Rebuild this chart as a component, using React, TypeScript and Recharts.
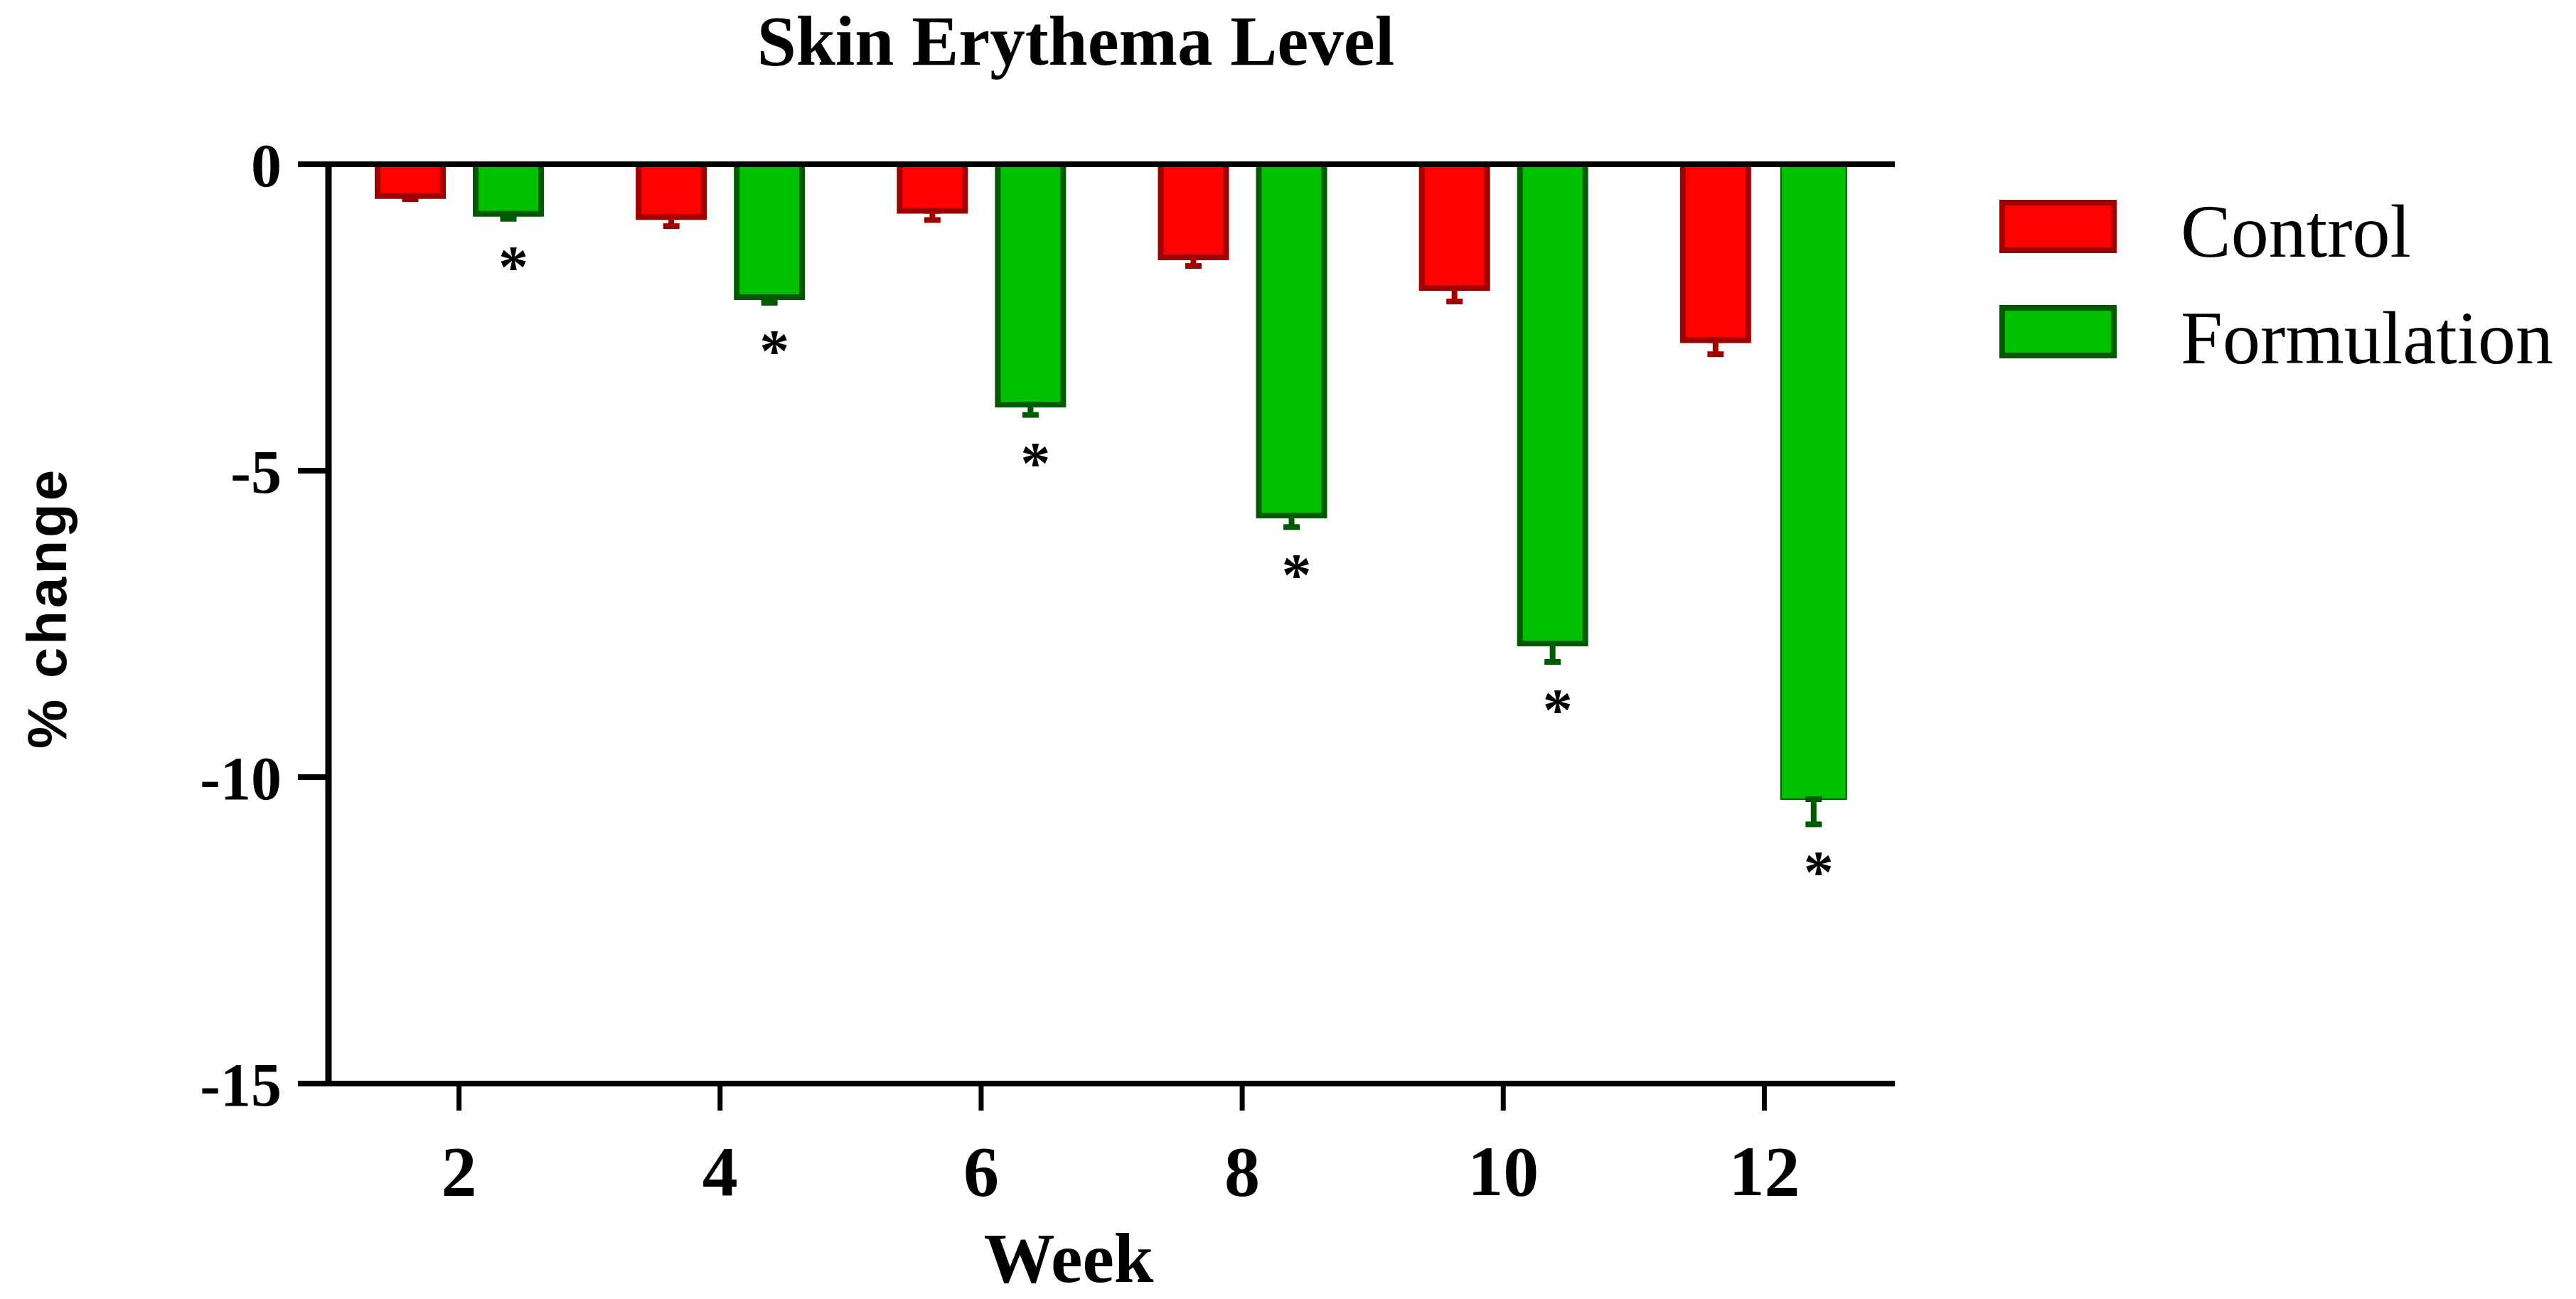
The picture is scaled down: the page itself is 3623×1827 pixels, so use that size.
import React from 'react';
import { BarChart, Bar, XAxis, YAxis, ErrorBar, ReferenceLine, Legend, LabelList, Cell, Customized } from 'recharts';

const weeks = ['2', '4', '6', '8', '10', '12'];
const controlMean = [-0.52, -0.86, -0.76, -1.52, -2.02, -2.87];
const controlSem = [0.05, 0.15, 0.15, 0.14, 0.22, 0.23];
const formulationMean = [-0.81, -2.17, -3.92, -5.73, -7.82, -10.36];
const formulationSem = [0.08, 0.09, 0.17, 0.19, 0.3, 0.41];
const significance = ['*', '*', '*', '*', '*', '*'];
const yTicks = [0, -5, -10, -15];

const RED = '#ff0000';
const RED_EDGE = '#a00000';
const GREEN = '#00c000';
const GREEN_EDGE = '#005a00';

const SERIF = '"Liberation Serif", "Times New Roman", serif';
const SANS = '"Liberation Sans", Arial, sans-serif';

const edgeColors: Record<string, string> = { control: RED_EDGE, formulation: GREEN_EDGE };

// error bars only go downwards: [lower, upper]
const data = weeks.map((week, i) => ({
  week,
  control: controlMean[i],
  controlErr: [controlSem[i], 0],
  formulation: formulationMean[i],
  formulationErr: [formulationSem[i], 0],
}));

const renderStar = (props: any) => {
  const vb = props.viewBox && props.viewBox.width != null ? props.viewBox : props;
  const { x, y, width, height } = vb;
  const index = props.index;
  const v = formulationMean[index];
  const bottom = Math.max(y, y + height);
  const pxPerUnit = Math.abs(height) / Math.abs(v);
  const capY = bottom + formulationSem[index] * pxPerUnit;
  return (
    <text
      x={x + width / 2 + 7}
      y={capY + 96}
      textAnchor="middle"
      fontFamily={SERIF}
      fontWeight="bold"
      fontSize={84}
      fill="#000"
    >
      {significance[index]}
    </text>
  );
};

const renderLegend = (props: any) => {
  const items = props.payload || [];
  return (
    <svg width={823} height={380} style={{ display: 'block', overflow: 'visible' }}>
      {items.map((entry: any, i: number) => (
        <g key={entry.value}>
          <rect
            x={16}
            y={85 + i * 148}
            width={157}
            height={67}
            fill={entry.color}
            stroke={edgeColors[entry.dataKey] || '#000'}
            strokeWidth={8}
          />
          <text x={267} y={161 + i * 150} fontFamily={SERIF} fontSize={106} fill="#000">
            {entry.value}
          </text>
        </g>
      ))}
    </svg>
  );
};

const Titles = () => (
  <g>
    <text x={1513} y={91} textAnchor="middle" fontFamily={SERIF} fontWeight="bold" fontSize={99} fill="#000">
      Skin Erythema Level
    </text>
    <text x={1503} y={1803} textAnchor="middle" fontFamily={SERIF} fontWeight="bold" fontSize={100} fill="#000">
      Week
    </text>
    <text
      x={93}
      y={855}
      transform="rotate(-90 93 855)"
      textAnchor="middle"
      fontFamily={SANS}
      fontWeight="bold"
      fontSize={78}
      letterSpacing={4}
      fill="#000"
    >
      % change
    </text>
  </g>
);

export default function App() {
  return (
    <div style={{ position: 'absolute', left: 0, top: 0, width: 3623, height: 1827, background: '#fff' }}>
      <BarChart
        width={3623}
        height={1827}
        data={data}
        margin={{ top: 231, right: 958, bottom: 153, left: 0 }}
        barSize={92}
        barGap={46}
      >
        <XAxis
          dataKey="week"
          height={150}
          interval={0}
          axisLine={{ stroke: '#000', strokeWidth: 8 }}
          tickLine={{ stroke: '#000', strokeWidth: 7 }}
          tickSize={38}
          tickMargin={48}
          tick={{ fill: '#000', fontSize: 100, fontFamily: SERIF, fontWeight: 'bold' }}
        />
        <YAxis
          width={462}
          domain={[-15, 0]}
          ticks={yTicks}
          allowDataOverflow
          axisLine={{ stroke: '#000', strokeWidth: 9 }}
          tickLine={{ stroke: '#000', strokeWidth: 8 }}
          tickSize={43}
          tickMargin={23}
          tick={{ fill: '#000', fontSize: 86, fontFamily: SERIF, fontWeight: 'bold' }}
        />
        <Bar dataKey="control" name="Control" fill={RED} stroke={RED_EDGE} strokeWidth={8} isAnimationActive={false}>
          <ErrorBar dataKey="controlErr" direction="y" width={11.5} stroke={RED_EDGE} strokeWidth={8} />
        </Bar>
        <Bar dataKey="formulation" name="Formulation" fill={GREEN} stroke={GREEN_EDGE} strokeWidth={8} isAnimationActive={false}>
          {data.map((d, i) => (
            <Cell key={d.week} strokeWidth={i === data.length - 1 ? 2 : 8} />
          ))}
          <ErrorBar dataKey="formulationErr" direction="y" width={11.5} stroke={GREEN_EDGE} strokeWidth={8} />
          <LabelList dataKey="formulation" content={renderStar} />
        </Bar>
        <ReferenceLine y={0} stroke="#000" strokeWidth={8} />
        <Legend
          layout="horizontal"
          align="center"
          verticalAlign="middle"
          content={renderLegend}
          wrapperStyle={{ left: 2800, top: 200, width: 823, height: 380 }}
        />
        <Customized component={Titles} />
      </BarChart>
    </div>
  );
}
